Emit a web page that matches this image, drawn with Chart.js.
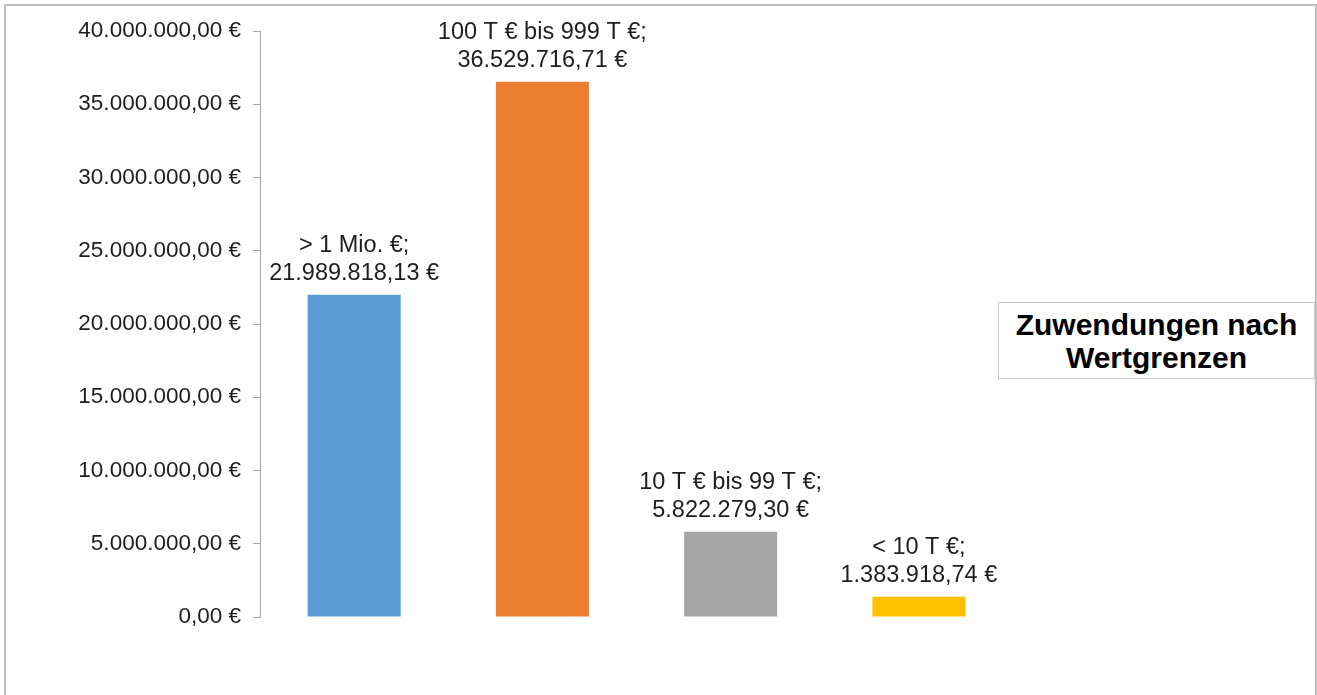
<!DOCTYPE html>
<html lang="de">
<head>
<meta charset="utf-8">
<title>Zuwendungen nach Wertgrenzen</title>
<script src="https://cdn.jsdelivr.net/npm/chart.js@4/dist/chart.umd.min.js"></script>
<style>
  html, body { margin: 0; padding: 0; background: #fff; }
  body { width: 1317px; height: 695px; position: relative; overflow: hidden; font-family: "Liberation Sans", Arial, sans-serif; }
  #rahmen { position: absolute; left: 4px; top: 4px; width: 1309px; height: 720px; border: 2px solid #bfbfbf; }
  #chart { position: absolute; left: 0; top: 0; }
  #titel {
    position: absolute; left: 998px; top: 302px; width: 315px; height: 75px;
    border: 1.5px solid #c8c8c8; background: #fff;
    font-weight: bold; font-size: 30px; line-height: 33px; color: #000;
    text-align: center; display: flex; align-items: center; justify-content: center;
  }
</style>
</head>
<body>
<div id="rahmen"></div>
<canvas id="chart" width="1317" height="695"></canvas>
<div id="titel">Zuwendungen nach<br>Wertgrenzen</div>

<script>
// === Daten ===
const kategorien = ["> 1 Mio. €", "100 T € bis 999 T €", "10 T € bis 99 T €", "< 10 T €"];
const betraege = [21989818.13, 36529716.71, 5822279.30, 1383918.74];
const farben = ["#5b9bd5", "#ed7d31", "#a5a5a5", "#ffc000"];
const achseMax = 40000000;
const achseSchritt = 5000000;

// === Euro-Format (de-DE) ===
function formatEuro(wert) {
  const [ganz, dez] = Number(wert).toFixed(2).split(".");
  const mitPunkten = ganz.replace(/\B(?=(\d{3})+(?!\d))/g, ".");
  return `${mitPunkten},${dez} €`;
}

const schrift = '"Liberation Sans", Arial, sans-serif';

// === Beschriftung über den Balken ===
const balkenLabels = {
  id: "balkenLabels",
  afterDatasetsDraw(chart) {
    const { ctx } = chart;
    const meta = chart.getDatasetMeta(0);
    ctx.save();
    ctx.font = `23.5px ${schrift}`;
    ctx.fillStyle = "#1e1e1e";
    ctx.textAlign = "center";
    ctx.textBaseline = "alphabetic";
    meta.data.forEach((bar, i) => {
      const y = bar.y - 15;
      ctx.fillText(kategorien[i] + ";", bar.x, y - 28);
      ctx.fillText(formatEuro(betraege[i]), bar.x, y);
    });
    ctx.restore();
  }
};

// === Chart ===
const ctx = document.getElementById("chart").getContext("2d");
new Chart(ctx, {
  type: "bar",
  data: {
    labels: kategorien,
    datasets: [{
      data: betraege,
      backgroundColor: farben,
      borderWidth: 0,
      barPercentage: 0.494,
      categoryPercentage: 1
    }]
  },
  options: {
    responsive: false,
    animation: false,
    layout: { padding: { top: 31, left: 0, right: 304, bottom: 78 } },
    plugins: {
      legend: { display: false },
      tooltip: { enabled: false }
    },
    scales: {
      x: { display: false },
      y: {
        min: 0,
        max: achseMax,
        afterFit: scale => { scale.width = 260; },
        ticks: {
          stepSize: achseSchritt,
          callback: v => formatEuro(v),
          font: { family: schrift, size: 22.5 },
          color: "#1e1e1e",
          padding: 12
        },
        grid: {
          drawOnChartArea: false,
          drawTicks: true,
          tickLength: 7,
          tickColor: "#a6a6a6"
        },
        border: { color: "#a6a6a6", width: 1 }
      }
    }
  },
  plugins: [balkenLabels]
});
</script>
</body>
</html>
